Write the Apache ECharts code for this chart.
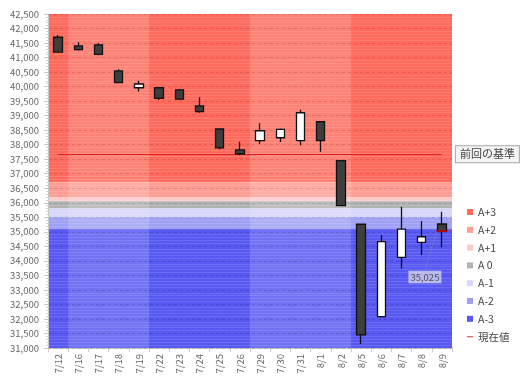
<!DOCTYPE html>
<html>
<head>
<meta charset="utf-8">
<script src="https://cdn.jsdelivr.net/npm/echarts@6/dist/echarts.min.js"></script>
<style>html,body{margin:0;padding:0;background:#fff;}#c{width:523px;height:380px;}</style>
</head>
<body>
<div id="c"></div>
<script>
var categories = ['7/12','7/16','7/17','7/18','7/19','7/22','7/23','7/24','7/25','7/26','7/29','7/30','7/31','8/1','8/2','8/5','8/6','8/7','8/8','8/9'];
var openVals  = [41700,41400,41440,40540,39960,39960,39890,39340,38540,37820,38140,38240,38140,38790,37450,35260,32080,34120,34640,35270];
var closeVals = [41190,41270,41110,40140,40090,39600,39570,39140,37890,37680,38480,38530,39100,38140,35900,31450,34660,35090,34830,35025];
var lowVals   = [41180,41240,41080,40120,39830,39540,39540,39100,37840,37640,38020,38090,37980,37760,35890,31140,32070,33740,34200,34470];
var highVals  = [41780,41530,41490,40600,40200,39970,39920,39630,38550,38100,38740,38560,39200,38800,37460,35290,34890,35860,35370,35690];

var bandNames  = ['A+3','A+2','A+1','A 0','A-1','A-2','A-3'];
var bandTop    = [42500,36700,36200,36050,35800,35500,35100];
var bandBottom = [36700,36200,36050,35800,35500,35100,31000];
var bandColors = ['#ff6a5c','#ff9c93','#ffcaca','#b2b2b2','#d6d6fa','#a0a0f4','#5858f2'];

var lightWeeks = [[1,5],[10,15]];   // category index ranges of the lighter weeks
var prevBase = 37670;
var prevBaseLabel = '前回の基準';
var currentName = '現在値';
var currentValue = 35025;
var yTicks = {min:31000, max:42500, interval:500};

var fontFamily = '"Noto Sans CJK JP", "Noto Sans", sans-serif';
var chart = echarts.init(document.getElementById('c'), null, {renderer:'canvas'});

var series = [];
bandNames.forEach(function(n, i){
  series.push({
    name: n, type: 'line', data: [], z: 1,
    itemStyle: {color: bandColors[i]},
    markArea: {silent: true, itemStyle: {color: bandColors[i]},
      data: [[{yAxis: bandBottom[i]}, {yAxis: bandTop[i]}]]}
  });
});
series.push({
  name: 'weeks', type: 'line', data: [], xAxisIndex: 1, z: 2,
  markArea: {silent: true, itemStyle: {color: 'rgba(255,255,255,0.16)'},
    data: lightWeeks.map(function(w){ return [{xAxis: w[0]}, {xAxis: w[1]}]; })}
});
series.push({
  name: 'price', type: 'candlestick', z: 5, barWidth: 9,
  data: categories.map(function(c, i){ return [openVals[i], closeVals[i], lowVals[i], highVals[i]]; }),
  itemStyle: {color: '#ffffff', color0: '#3e3e3e', borderColor: '#111', borderColor0: '#111', borderWidth: 1.3},
  markLine: {
    silent: true, symbol: ['none','none'],
    lineStyle: {color: '#e8201a', width: 1, type: 'solid'},
    label: {show: true, position: 'end', distance: 14, formatter: prevBaseLabel,
      fontFamily: fontFamily, fontSize: 11, color: '#444',
      backgroundColor: '#f4f4f4', borderColor: '#a8a8a8', borderWidth: 1, padding: [3,4,2,4]},
    data: [[{coord: [categories[0], prevBase]}, {coord: [categories[categories.length-1], prevBase]}]]
  }
});
series.push({
  name: currentName, type: 'scatter', z: 6,
  symbol: 'rect', symbolSize: [11, 2],
  itemStyle: {color: '#d40000'},
  data: [[categories[categories.length-1], currentValue]],
  label: {show: true, position: 'inside', formatter: function(p){ return echarts.format.addCommas(p.value[1]); },
    fontFamily: fontFamily, fontSize: 9.5, color: '#333',
    backgroundColor: 'rgba(222,222,236,0.9)', padding: [2,2,1,2]},
  labelLayout: {dx: -17, dy: 46},
  labelLine: {show: true, lineStyle: {color: '#8888aa', type: 'dotted', width: 1}}
});

var linePath = 'path://M0,0h0.01v0.01h-0.01z M0,2.6h6v1.1h-6z M5.99,5.99h0.01v0.01h-0.01z';
var legendData = bandNames.map(function(n){ return {name: n, icon: 'rect'}; });
legendData.push({name: currentName, icon: linePath});

chart.setOption({
  animation: false,
  backgroundColor: '#ffffff',
  textStyle: {fontFamily: fontFamily},
  grid: {left: 48, right: 71, top: 14, bottom: 32},
  legend: {
    orient: 'vertical', left: 462, top: 201,
    itemWidth: 6, itemHeight: 6, itemGap: 5.8, selectedMode: false,
    textStyle: {fontFamily: fontFamily, fontSize: 10.5, color: '#444', lineHeight: 12},
    data: legendData
  },
  xAxis: [{
    type: 'category', data: categories, boundaryGap: true,
    axisLine: {show: true, lineStyle: {color: '#c8c8c8'}},
    axisTick: {show: true, length: 4, lineStyle: {color: '#c8c8c8'}},
    axisLabel: {rotate: 90, fontSize: 9.5, color: '#666', margin: 6, fontFamily: fontFamily},
    splitLine: {show: false}
  }, {
    type: 'value', min: 0, max: categories.length, show: false
  }],
  yAxis: {
    type: 'value', min: yTicks.min, max: yTicks.max, interval: yTicks.interval, z: 3,
    axisLine: {show: true, lineStyle: {color: '#c8c8c8'}},
    axisTick: {show: true, length: 4, lineStyle: {color: '#c8c8c8'}},
    minorTick: {show: true, splitNumber: 5, length: 2, lineStyle: {color: '#d0d0d0'}},
    axisLabel: {fontSize: 9.5, color: '#666', margin: 9, fontFamily: fontFamily,
      formatter: function(v){ return echarts.format.addCommas(v); }},
    splitLine: {show: true, lineStyle: {color: 'rgba(0,0,0,0.13)', type: [3,3], width: 1}},
    minorSplitLine: {show: true, lineStyle: {color: 'rgba(255,255,255,0.12)', width: 1}}
  },
  series: series
});
</script>
</body>
</html>
